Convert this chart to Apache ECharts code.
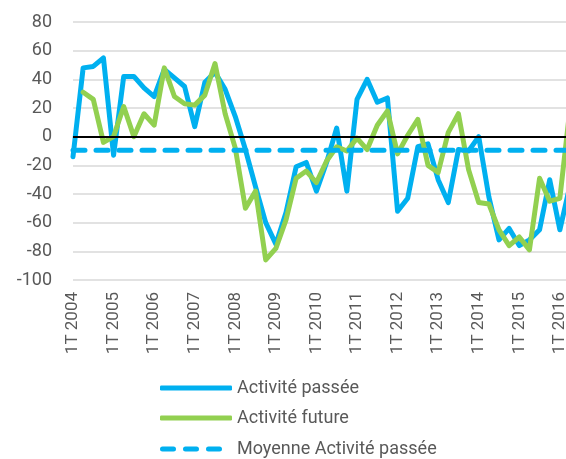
<!DOCTYPE html>
<html>
<head>
<meta charset="utf-8">
<script src="https://cdn.jsdelivr.net/npm/echarts@6/dist/echarts.min.js"></script>
<style>
  html, body { margin: 0; padding: 0; background: #fff; overflow: hidden; }
  /* the reference is cut on its right side: the last quarter lies just past the frame */
  #chart { width: 570px; height: 459px; }
</style>
</head>
<body>
<div id="chart"></div>
<script>
var years = [2004, 2005, 2006, 2007, 2008, 2009, 2010, 2011, 2012, 2013, 2014, 2015, 2016];
var quarters = [];
years.forEach(function (y) {
  for (var q = 1; q <= 4; q++) quarters.push(q + 'T ' + y);
});
quarters = quarters.slice(0, 50); // 1T 2004 .. 2T 2016

var activitePassee = [
  -14, 48, 49, 55, -13, 42, 42, 34, 28, 47,
  41, 35, 7, 38, 45, 33, 14, -9, -35, -60,
  -75, -53, -21, -18, -38, -18, 6, -38, 26, 40,
  24, 27, -52, -43, -7, -5, -30, -46, -9, -10,
  0, -42, -72, -64, -76, -72, -65, -30, -65, -34
];
var activiteFuture = [
  null, 31, 26, -4, 0, 21, 0, 16, 8, 48,
  28, 23, 22, 29, 51, 16, -8, -50, -38, -86,
  -78, -58, -29, -24, -32, -17, -7, -10, -1, -9,
  8, 18, -12, 1, 12, -20, -25, 3, 16, -23,
  -46, -47, -65, -76, -70, -79, -29, -45, -43, 20
];
var moyenneValue = -9.5;
var moyenne = quarters.map(function () { return moyenneValue; });

var yTicks = { min: -100, max: 80, step: 20 };

var blue = '#00B0F0';
var green = '#92D050';
var grey = '#595959';
var font = 'Roboto, "Noto Sans", sans-serif';

var dashIcon = 'path://M2.5,0H13.5A2.5,2.5,0,0,1,13.5,5H2.5A2.5,2.5,0,0,1,2.5,0Z' +
  'M25.5,0H36.5A2.5,2.5,0,0,1,36.5,5H25.5A2.5,2.5,0,0,1,25.5,0Z' +
  'M48.5,0H59.5A2.5,2.5,0,0,1,59.5,5H48.5A2.5,2.5,0,0,1,48.5,0Z';

function legendItem(name, top, icon, width, pad) {
  return {
    left: 160,
    top: top,
    padding: 0,
    icon: icon,
    itemWidth: width,
    itemHeight: 5,
    selectedMode: false,
    textStyle: { color: grey, fontSize: 18, fontFamily: font, padding: [0, 0, 0, pad] },
    data: [name]
  };
}

var myChart = echarts.init(document.getElementById('chart'));
var option = {
  animation: false,
  grid: { left: 73, right: 0, top: 22, bottom: 179, containLabel: false },
  legend: [
    legendItem('Activité passée', 379, 'roundRect', 72, 0),
    legendItem('Activité future', 409, 'roundRect', 72, 0),
    legendItem('Moyenne Activité passée', 440, dashIcon, 62, 10)
  ],
  xAxis: {
    type: 'category',
    data: quarters,
    boundaryGap: false,
    axisLine: { show: false },
    axisTick: { show: false },
    splitLine: { show: false },
    axisLabel: {
      interval: 3,
      rotate: 90,
      margin: 12,
      color: grey,
      fontSize: 17,
      fontFamily: font
    }
  },
  yAxis: {
    type: 'value',
    min: yTicks.min,
    max: yTicks.max,
    interval: yTicks.step,
    axisLine: { show: false },
    axisTick: { show: false },
    axisLabel: { color: grey, fontSize: 18, fontFamily: font, margin: 21 },
    splitLine: { lineStyle: { color: '#d9d9d9', width: 1.5 } }
  },
  series: [
    {
      name: 'Activité passée',
      type: 'line',
      data: activitePassee,
      symbol: 'none',
      z: 3,
      lineStyle: { color: blue, width: 5, join: 'round', cap: 'round' },
      itemStyle: { color: blue },
      markLine: {
        silent: true,
        symbol: 'none',
        label: { show: false },
        lineStyle: { color: '#000', width: 2, type: 'solid' },
        data: [{ yAxis: 0 }]
      }
    },
    {
      name: 'Activité future',
      type: 'line',
      data: activiteFuture,
      symbol: 'none',
      z: 4,
      lineStyle: { color: green, width: 5, join: 'round', cap: 'round' },
      itemStyle: { color: green }
    },
    {
      name: 'Moyenne Activité passée',
      type: 'line',
      data: moyenne,
      symbol: 'none',
      z: 5,
      lineStyle: { color: blue, width: 5, type: [12, 11], cap: 'round' },
      itemStyle: { color: blue }
    }
  ]
};
myChart.setOption(option);
</script>
</body>
</html>
